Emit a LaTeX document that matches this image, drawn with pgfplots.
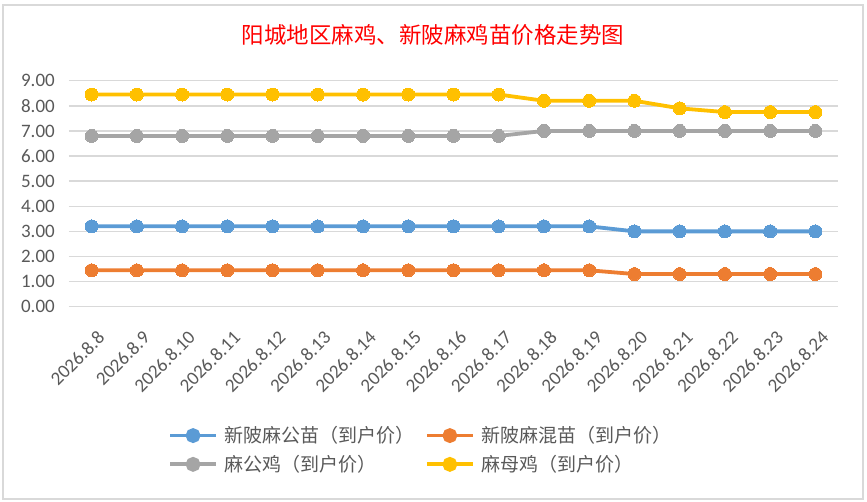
\documentclass[border=0pt]{standalone}
\usepackage{pgfplots}
\pgfplotsset{compat=1.18}
\usepackage{pgfplotstable}
\usepackage{fontspec}
\setmainfont{Carlito}
\newfontfamily\cjk{Noto Sans CJK SC}
\definecolor{cblue}{HTML}{5B9BD5}
\definecolor{corange}{HTML}{ED7D31}
\definecolor{cgray}{HTML}{A5A5A5}
\definecolor{cyellow}{HTML}{FFC000}
\definecolor{ctext}{HTML}{595959}
\definecolor{cgrid}{HTML}{D9D9D9}
\pgfplotstableread{
x blue orange gray yellow
0 3.2 1.45 6.8 8.45
1 3.2 1.45 6.8 8.45
2 3.2 1.45 6.8 8.45
3 3.2 1.45 6.8 8.45
4 3.2 1.45 6.8 8.45
5 3.2 1.45 6.8 8.45
6 3.2 1.45 6.8 8.45
7 3.2 1.45 6.8 8.45
8 3.2 1.45 6.8 8.45
9 3.2 1.45 6.8 8.45
10 3.2 1.45 7.0 8.2
11 3.2 1.45 7.0 8.2
12 3.0 1.3 7.0 8.2
13 3.0 1.3 7.0 7.9
14 3.0 1.3 7.0 7.75
15 3.0 1.3 7.0 7.75
16 3.0 1.3 7.0 7.75
}\datatable
\begin{document}
\begin{tikzpicture}
\path[use as bounding box] (0pt,0pt) rectangle (867pt,502pt);
\draw[cgrid, line width=2pt] (3pt,3pt) rectangle (863pt,497pt);
\node[text=red, font=\cjk\fontsize{22.5}{27}\selectfont] at (433pt,467pt) {阳城地区麻鸡、新陂麻鸡苗价格走势图};
\begin{axis}[
  at={(69pt,195.3pt)}, anchor=south west,
  scale only axis, width=769pt, height=226pt,
  xmin=-0.5, xmax=16.5, ymin=0, ymax=9,
  xtick={0,...,16},
  xticklabels={2026.8.8,2026.8.9,2026.8.10,2026.8.11,2026.8.12,2026.8.13,2026.8.14,2026.8.15,2026.8.16,2026.8.17,2026.8.18,2026.8.19,2026.8.20,2026.8.21,2026.8.22,2026.8.23,2026.8.24},
  ytick={0,1,...,9},
  axis line style={draw=none},
  major tick length=0pt,
  ymajorgrids, grid style={cgrid, line width=1.5pt},
  /pgf/number format/assume math mode=true,
  yticklabel style={font=\fontsize{19}{23}\selectfont, text=ctext, inner sep=0pt, xshift=-14pt,
    /pgf/number format/.cd, fixed, fixed zerofill, precision=2},
  xticklabel style={font=\fontsize{19}{23}\selectfont, text=ctext, inner sep=0pt, xshift=5pt, yshift=-23pt, rotate=45, anchor=north east},
  legend columns=2,
  legend style={at={(0.4564,-0.634)}, anchor=center, draw=none, fill=none,
    font=\cjk\fontsize{19}{23}\selectfont, text=ctext,
    row sep=11pt,
    /tikz/every odd column/.append style={column sep=7pt},
    /tikz/every even column/.append style={column sep=10pt},
    nodes={inner sep=0pt}},
  legend cell align=left,
  legend image code/.code={\draw[#1,mark=none] (0pt,0pt) -- (46pt,0pt); \fill[#1] (23pt,0pt) circle (5.5pt);},
  every axis plot/.append style={line width=3.8pt, mark=*, mark size=6.5pt},
]
\addplot[cblue, mark options={fill=cblue, draw=cblue, line width=0pt}] table[x=x,y=blue] {\datatable};
\addlegendentry{新陂麻公苗（到户价）}
\addplot[corange, mark options={fill=corange, draw=corange, line width=0pt}] table[x=x,y=orange] {\datatable};
\addlegendentry{新陂麻混苗（到户价）}
\addplot[cgray, mark options={fill=cgray, draw=cgray, line width=0pt}] table[x=x,y=gray] {\datatable};
\addlegendentry{麻公鸡（到户价）}
\addplot[cyellow, mark options={fill=cyellow, draw=cyellow, line width=0pt}] table[x=x,y=yellow] {\datatable};
\addlegendentry{麻母鸡（到户价）}
\end{axis}
\end{tikzpicture}
\end{document}
